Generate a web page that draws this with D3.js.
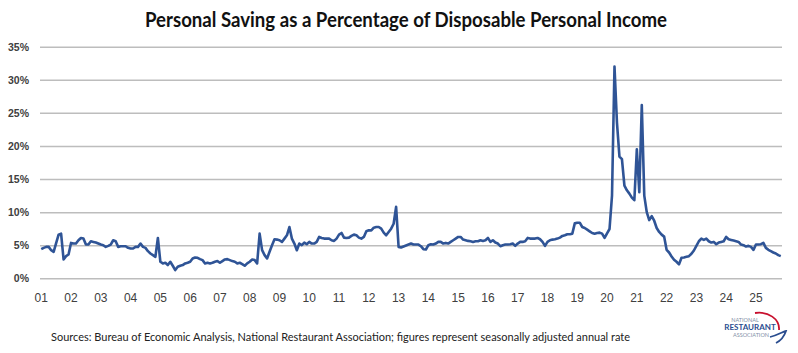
<!DOCTYPE html>
<html>
<head>
<meta charset="utf-8">
<script src="https://cdn.jsdelivr.net/npm/d3@7"></script>
<style>
  body { margin: 0; background: #fff; }
  svg { display: block; font-family: Lato, "Open Sans", sans-serif; }
</style>
</head>
<body>
<div id="chart"></div>
<script>
// monthly personal saving rate (%), Jan 2001 onward
const startYear = 2001;
const savingRate = [
  4.4, 4.6, 4.75, 4.75, 4.25, 4.0, 5.3, 6.6, 6.75, 2.85, 3.35, 3.6,     // 2001
  5.35, 5.25, 5.25, 5.75, 6.1, 6.0, 5.1, 5.1, 5.6, 5.5, 5.4, 5.25,      // 2002
  5.1, 5.0, 4.75, 4.9, 5.1, 5.75, 5.6, 4.75, 4.85, 4.85, 4.85, 4.6,     // 2003
  4.5, 4.5, 4.75, 4.75, 5.25, 4.75, 4.6, 4.1, 3.75, 3.5, 3.25, 6.1,     // 2004
  2.5, 2.25, 2.35, 2.0, 2.5, 1.9, 1.25, 1.75, 1.9, 2.0, 2.25, 2.35,     // 2005
  2.5, 3.0, 3.15, 3.1, 2.9, 2.75, 2.25, 2.35, 2.25, 2.35, 2.5, 2.6,     // 2006
  2.35, 2.6, 2.85, 2.9, 2.75, 2.6, 2.5, 2.25, 2.35, 2.15, 1.9, 2.25,    // 2007
  2.5, 2.85, 2.75, 2.25, 6.75, 4.25, 3.5, 3.0, 4.0, 5.0, 5.9, 5.85,     // 2008
  5.75, 5.5, 6.0, 6.5, 7.75, 6.0, 5.25, 4.25, 5.25, 5.0, 5.4, 5.15,     // 2009
  5.5, 5.25, 5.25, 5.5, 6.25, 6.1, 6.0, 6.0, 6.0, 5.75, 5.65, 6.0,      // 2010
  6.6, 6.85, 6.15, 6.1, 6.15, 6.4, 6.6, 6.5, 6.15, 6.0, 6.25, 7.1,      // 2011
  7.25, 7.25, 7.65, 7.75, 7.75, 7.5, 6.9, 6.5, 7.0, 7.5, 8.25, 10.8,    // 2012
  4.75, 4.65, 4.8, 4.95, 5.1, 5.25, 5.1, 5.1, 5.1, 4.85, 4.4, 4.35,     // 2013
  5.0, 5.15, 5.1, 5.25, 5.5, 5.5, 5.25, 5.35, 5.25, 5.5, 5.75, 6.0,     // 2014
  6.25, 6.25, 5.85, 5.75, 5.65, 5.6, 5.5, 5.6, 5.6, 5.75, 5.65, 5.75,   // 2015
  6.1, 5.5, 5.75, 5.4, 5.25, 4.85, 5.0, 5.1, 5.1, 5.15, 5.25, 4.9,      // 2016
  5.25, 5.5, 5.5, 5.6, 6.1, 6.0, 6.0, 6.0, 6.1, 5.9, 5.5, 4.9,          // 2017
  5.5, 5.75, 5.85, 5.9, 6.0, 6.15, 6.4, 6.5, 6.65, 6.65, 6.75, 8.3,     // 2018
  8.4, 8.4, 7.75, 7.6, 7.35, 7.1, 6.85, 6.75, 6.85, 6.9, 6.75, 6.1,     // 2019
  6.8, 7.45, 12.5, 32.0, 23.5, 18.4, 18.0, 14.0, 13.3, 12.8, 12.2, 11.8, // 2020
  19.5, 13.0, 26.2, 12.5, 10.0, 8.8, 9.4, 8.7, 7.6, 7.0, 6.6, 6.3,      // 2021
  4.3, 3.9, 3.3, 2.8, 2.5, 2.1, 3.1, 3.15, 3.25, 3.35, 3.7, 4.2,        // 2022
  4.9, 5.6, 6.0, 5.8, 6.0, 5.6, 5.4, 5.5, 5.15, 5.4, 5.5, 5.6,          // 2023
  6.25, 5.9, 5.8, 5.7, 5.6, 5.5, 5.1, 5.0, 4.8, 4.9, 4.75, 4.3,         // 2024
  5.1, 5.1, 5.15, 5.35, 4.6, 4.3, 4.1, 3.9, 3.75, 3.5, 3.35             // 2025
];
const yTicks = [0, 0.05, 0.10, 0.15, 0.20, 0.25, 0.30, 0.35];
const yearLabels = ['01', '02', '03', '04', '05', '06', '07', '08', '09', '10', '11', '12', '13',
  '14', '15', '16', '17', '18', '19', '20', '21', '22', '23', '24', '25'];

const title = 'Personal Saving as a Percentage of Disposable Personal Income';
const source = 'Sources: Bureau of Economic Analysis, National Restaurant Association; figures represent seasonally adjusted annual rate';

const width = 798, height = 353;
const plot = { left: 40, right: 782, top: 46.7, bottom: 278.3 };

const months = savingRate.map((d, i) =>
  `${startYear + Math.floor(i / 12)}-${String(i % 12 + 1).padStart(2, '0')}`);
const januaries = months.filter(m => m.endsWith('-01'));

const svg = d3.select('#chart')
  .append('svg')
  .attr('width', width)
  .attr('height', height);

// scales
const x = d3.scaleBand().domain(months).range([plot.left, plot.right]);
const y = d3.scaleLinear().domain([0, 0.35]).range([plot.bottom, plot.top]);

// title
svg.append('text')
  .attr('x', 406)
  .attr('y', 27)
  .attr('text-anchor', 'middle')
  .attr('textLength', 522)
  .attr('lengthAdjust', 'spacingAndGlyphs')
  .style('font-size', '20px')
  .style('font-weight', 700)
  .style('fill', '#111')
  .text(title);

// y axis + gridlines
const yAxis = svg.append('g')
  .attr('transform', `translate(${plot.left},0)`)
  .call(d3.axisLeft(y)
    .tickValues(yTicks)
    .tickFormat(d3.format('.0%'))
    .tickSize(-(plot.right - plot.left))
    .tickPadding(11));
yAxis.select('.domain').remove();
yAxis.selectAll('.tick line').attr('stroke', '#bdbdbd').attr('stroke-width', 1.5);
yAxis.selectAll('.tick text')
  .style('font-size', '10.5px')
  .style('font-weight', 700)
  .style('fill', '#404040');

// x axis
const xAxis = svg.append('g')
  .attr('transform', `translate(0,${plot.bottom})`)
  .call(d3.axisBottom(x)
    .tickValues(januaries)
    .tickFormat((d, i) => yearLabels[i])
    .tickSize(0)
    .tickPadding(15));
xAxis.select('.domain').remove();
xAxis.selectAll('.tick text')
  .style('font-size', '12px')
  .style('fill', '#404040');

// line
const line = d3.line()
  .x((d, i) => x(months[i]) + x.bandwidth() / 2)
  .y(d => y(d / 100));

svg.append('path')
  .datum(savingRate)
  .attr('d', line)
  .attr('fill', 'none')
  .attr('stroke', '#2f5496')
  .attr('stroke-width', 2.6)
  .attr('stroke-linejoin', 'round');

// source note
svg.append('text')
  .attr('x', 51)
  .attr('y', 341)
  .attr('textLength', 579)
  .attr('lengthAdjust', 'spacingAndGlyphs')
  .style('font-size', '11px')
  .style('fill', '#222')
  .text(source);

// association logo
const logo = svg.append('g').attr('transform', 'translate(749,326)');
logo.append('path')
  .attr('d', 'M6,-13 C19,-15 31,-7 30,4')
  .attr('fill', 'none')
  .attr('stroke', '#c8102e')
  .attr('stroke-width', 1.8);
logo.append('path')
  .attr('d', 'M21,11 C29,9 35,5 37,5 C35,11 31,15 27,17')
  .attr('fill', 'none')
  .attr('stroke', '#2a4d8f')
  .attr('stroke-width', 1.8);
logo.append('text')
  .attr('x', -4).attr('y', -4)
  .attr('text-anchor', 'middle')
  .style('font-size', '5.5px')
  .style('fill', '#7f8fa6')
  .text('NATIONAL');
logo.append('text')
  .attr('x', 1).attr('y', 4)
  .attr('text-anchor', 'middle')
  .style('font-size', '8px')
  .style('font-weight', 700)
  .style('fill', '#2a4d8f')
  .text('RESTAURANT');
logo.append('text')
  .attr('x', 2).attr('y', 11)
  .attr('text-anchor', 'middle')
  .style('font-size', '5.5px')
  .style('fill', '#7f8fa6')
  .text('ASSOCIATION');
</script>
</body>
</html>
